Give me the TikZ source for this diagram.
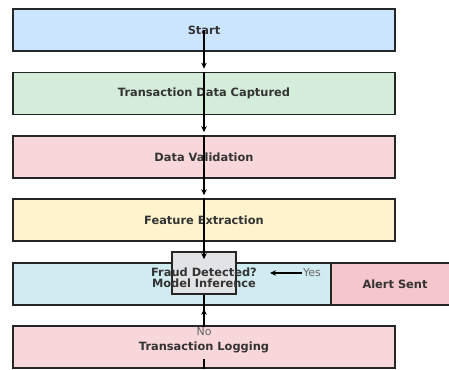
\documentclass[tikz,border=0pt]{standalone}
\usepackage{fontspec}
\setmainfont{DejaVu Sans}
\usepackage{xcolor}
\usetikzlibrary{arrows.meta}
\definecolor{startblue}{HTML}{CCE5FF}
\definecolor{capgreen}{HTML}{D4EDDA}
\definecolor{valpink}{HTML}{F8D7DA}
\definecolor{featyellow}{HTML}{FFF3CD}
\definecolor{modelcyan}{HTML}{D1ECF1}
\definecolor{alertpink}{HTML}{F5C6CB}
\definecolor{fraudgray}{HTML}{E2E3E5}
\definecolor{darktext}{HTML}{333333}

\begin{document}
\begin{tikzpicture}[x=1pt,y=-1pt,
  box/.style={draw=black!85,line width=1.6pt,minimum width=382pt,minimum height=42pt,inner sep=0pt},
  label/.style={font=\bfseries\fontsize{11.4}{13}\selectfont,text=darktext},
  answer/.style={font=\fontsize{11}{13}\selectfont,text=black!60,inner sep=1pt},
  flow/.style={line width=1.4pt,-{Stealth[length=6pt,width=5.5pt]},shorten >=3pt},
  plain/.style={line width=1.4pt}]
\useasboundingbox (0,0) rectangle (449,369);
\clip (0,0) rectangle (449,369);
% the column of boxes
\node[box,fill=startblue] (start) at (204,30) {};
\node[box,fill=capgreen] (captured) at (204,93.5) {};
\node[box,fill=valpink] (validation) at (204,157) {};
\node[box,fill=featyellow] (extraction) at (204,220) {};
\node[box,fill=modelcyan,minimum width=318pt] (model) at (172,284) {};
\node[box,fill=alertpink,minimum width=160pt] (alert) at (411,284) {};
\node[box,fill=valpink] (logging) at (204,347) {};
\node[draw=black!85,line width=1.6pt,fill=fraudgray,minimum width=64pt,minimum height=42pt] (fraud) at (204,273) {};
% texts
\node[label] (starttxt) at (start) {Start};
\node[label] (capturedtxt) at (captured) {Transaction Data Captured};
\node[label] (validationtxt) at (validation) {Data Validation};
\node[label] (extractiontxt) at (extraction) {Feature Extraction};
\node[label] (modeltxt) at (204,283.5) {Model Inference};
\node[label] (fraudtxt) at (204,272) {Fraud Detected?};
\node[label] (alerttxt) at (395,284) {Alert Sent};
\node[label] (loggingtxt) at (logging) {Transaction Logging};
\node[answer] (yes) at (312,273) {Yes};
\node[answer] (no) at (204,332) {No};
\coordinate (yestip) at (270,273);
\coordinate (exitpt) at (204,369);
% connectors
\draw[flow] (start.center) -- (captured.north);
\draw[flow] (captured.north) -- (validation.north);
\draw[flow] (validation.north) -- (extraction.north);
\draw[flow] (extraction.north) -- (fraud.center |- model.north);
\draw[flow,shorten >=0pt] (yes.west) -- (yestip);
\draw[plain] (fraud.south) -- (no.north);
\draw[flow] (no.north) -- (fraud.center |- model.south);
\draw[plain] ([yshift=-12pt]logging.center) -- (exitpt);
\end{tikzpicture}
\end{document}
